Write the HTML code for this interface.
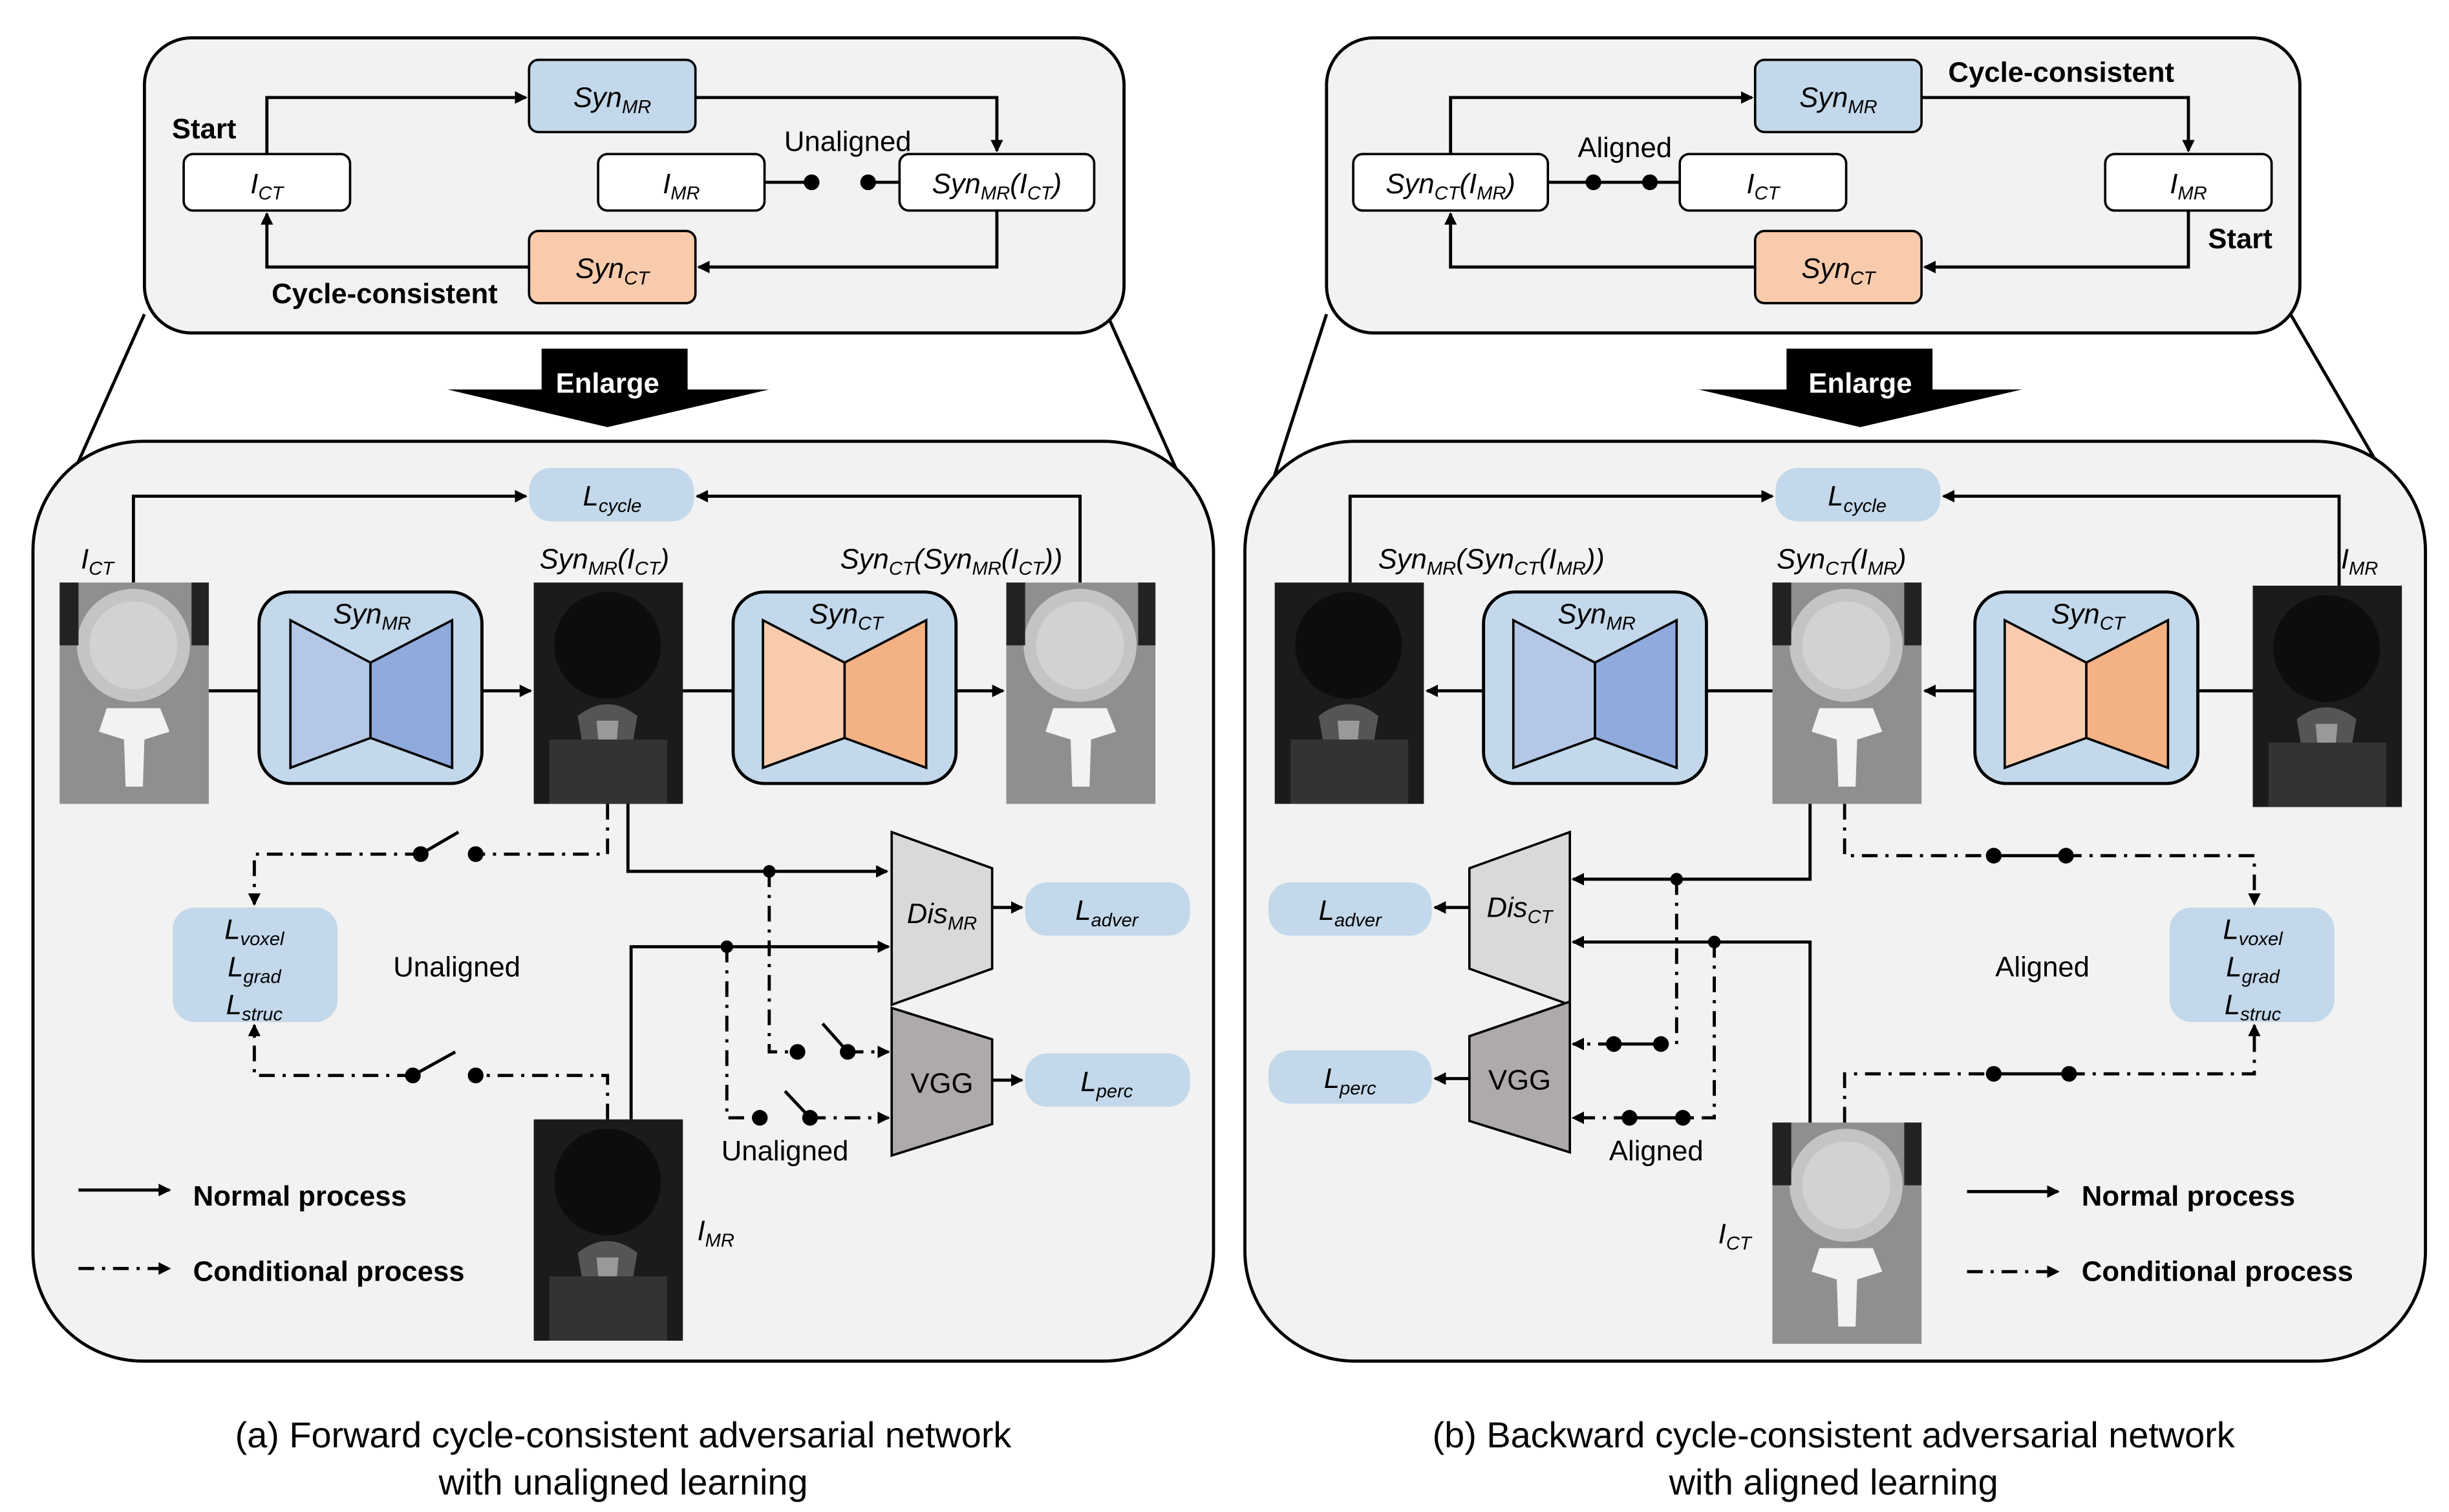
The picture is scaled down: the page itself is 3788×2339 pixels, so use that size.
<!DOCTYPE html>
<html><head><meta charset="utf-8"><style>
html,body{margin:0;padding:0;background:#fff;}
svg{display:block;}
text{font-family:"Liberation Sans",sans-serif;fill:#000;}
.i{font-style:italic;font-size:18px;}
.b{font-weight:bold;font-size:18px;}
.n{font-size:18px;}
.cap{font-size:23px;}
</style></head><body>
<svg width="3788" height="2339" viewBox="0 0 1560 963" xmlns="http://www.w3.org/2000/svg">
<defs>
<marker id="ar" markerWidth="8" markerHeight="8" refX="7" refY="4" orient="auto" markerUnits="userSpaceOnUse"><path d="M0,0 L8,4 L0,8 z" fill="#000"/></marker>
<g id="ct">
<rect x="0" y="0" width="95" height="141" fill="#8f8f8f"/>
<ellipse cx="47" cy="40" rx="36" ry="36" fill="#c4c4c4"/>
<ellipse cx="47" cy="40" rx="28" ry="28" fill="#d2d2d2"/>
<path d="M30,80 L64,80 L70,95 L54,100 L53,130 L42,130 L41,100 L25,95 z" fill="#f2f2f2"/>
<rect x="0" y="0" width="12" height="40" fill="#222"/>
<rect x="84" y="0" width="11" height="40" fill="#222"/>
</g>
<g id="mr">
<rect x="0" y="0" width="95" height="141" fill="#1b1b1b"/>
<ellipse cx="47" cy="40" rx="34" ry="34" fill="#0d0d0d"/>
<path d="M28,85 Q47,70 66,85 L60,120 L34,120 z" fill="#555"/>
<path d="M40,88 L54,88 L52,110 L42,110 z" fill="#999"/>
<rect x="10" y="100" width="75" height="41" fill="#333"/>
</g>
</defs>

<!-- ================= PANEL A ================= -->
<line x1="92" y1="200" x2="24" y2="352" stroke="#000" stroke-width="2"/>
<line x1="706" y1="202" x2="770" y2="345" stroke="#000" stroke-width="2"/>
<rect x="92" y="24" width="624" height="188" rx="30" fill="#f2f2f2" stroke="#000" stroke-width="2"/>
<g stroke="#000" stroke-width="2" fill="none">
<polyline points="170,98 170,62 335,62" marker-end="url(#ar)"/>
<polyline points="443,62 635,62 635,96" marker-end="url(#ar)"/>
<polyline points="635,134 635,170 445,170" marker-end="url(#ar)"/>
<polyline points="337,170 170,170 170,136" marker-end="url(#ar)"/>
<line x1="487" y1="116" x2="517" y2="116"/>
<line x1="553" y1="116" x2="573" y2="116"/>
</g>
<circle cx="517" cy="116" r="5"/><circle cx="553" cy="116" r="5"/>
<rect x="337" y="38" width="106" height="46" rx="6" fill="#c3d8ea" stroke="#000" stroke-width="1.5"/>
<text x="390" y="68" class="i" text-anchor="middle">Syn<tspan font-size="12" dy="4">MR</tspan></text>
<rect x="337" y="147" width="106" height="46" rx="6" fill="#f8cbad" stroke="#000" stroke-width="1.5"/>
<text x="390" y="177" class="i" text-anchor="middle">Syn<tspan font-size="12" dy="4">CT</tspan></text>
<rect x="117" y="98" width="106" height="36" rx="6" fill="#fff" stroke="#000" stroke-width="1.5"/>
<text x="170" y="123" class="i" text-anchor="middle">I<tspan font-size="12" dy="4">CT</tspan></text>
<rect x="381" y="98" width="106" height="36" rx="6" fill="#fff" stroke="#000" stroke-width="1.5"/>
<text x="434" y="123" class="i" text-anchor="middle">I<tspan font-size="12" dy="4">MR</tspan></text>
<rect x="573" y="98" width="124" height="36" rx="6" fill="#fff" stroke="#000" stroke-width="1.5"/>
<text x="635" y="123" class="i" text-anchor="middle">Syn<tspan font-size="12" dy="4">MR</tspan><tspan dy="-4">(I</tspan><tspan font-size="12" dy="4">CT</tspan><tspan dy="-4">)</tspan></text>
<text x="540" y="96" class="n" text-anchor="middle">Unaligned</text>
<text x="130" y="88" class="b" text-anchor="middle">Start</text>
<text x="245" y="193" class="b" text-anchor="middle">Cycle-consistent</text>
<!-- enlarge -->
<rect x="345" y="222" width="93" height="27" fill="#000"/>
<polygon points="285,248 490,248 387,272" fill="#000"/>
<text x="387" y="250" class="b" font-size="20" text-anchor="middle" style="fill:#fff">Enlarge</text>

<rect x="21" y="281" width="752" height="586" rx="70" fill="#f2f2f2" stroke="#000" stroke-width="2"/>
<rect x="337" y="298" width="105" height="34" rx="14" fill="#c3d8ea"/>
<text x="390" y="322" class="i" text-anchor="middle">L<tspan font-size="12" dy="4">cycle</tspan></text>
<g stroke="#000" stroke-width="2" fill="none">
<polyline points="85,371 85,316 335,316" marker-end="url(#ar)"/>
<polyline points="688,371 688,316 444,316" marker-end="url(#ar)"/>
<line x1="133" y1="440" x2="183" y2="440" marker-end="url(#ar)"/>
<line x1="288" y1="440" x2="338" y2="440" marker-end="url(#ar)"/>
<line x1="434" y1="440" x2="483" y2="440" marker-end="url(#ar)"/>
<line x1="589" y1="440" x2="639" y2="440" marker-end="url(#ar)"/>
<polyline points="400,512 400,555 565,555" marker-end="url(#ar)"/>
<polyline points="402,713 402,603 566,603" marker-end="url(#ar)"/>
<line x1="632" y1="578" x2="651" y2="578" marker-end="url(#ar)"/>
<line x1="632" y1="688" x2="651" y2="688" marker-end="url(#ar)"/>
<line x1="50" y1="758" x2="108" y2="758" marker-end="url(#ar)"/>
</g>
<g stroke="#000" stroke-width="2" fill="none" stroke-dasharray="10,5,2,5">
<polyline points="490,555 490,670 508,670"/>
<line x1="540" y1="670" x2="566" y2="670" marker-end="url(#ar)"/>
<polyline points="463,603 463,712 484,712"/>
<line x1="516" y1="712" x2="566" y2="712" marker-end="url(#ar)"/>
<polyline points="387,512 387,544 303,544"/>
<polyline points="268,544 162,544 162,576" marker-end="url(#ar)"/>
<polyline points="387,713 387,685 303,685"/>
<polyline points="263,685 162,685 162,653" marker-end="url(#ar)"/>
<line x1="50" y1="808" x2="108" y2="808" marker-end="url(#ar)"/>
</g>
<g stroke="#000" stroke-width="2">
<line x1="524" y1="652" x2="540" y2="670"/>
<line x1="500" y1="695" x2="516" y2="712"/>
<line x1="268" y1="544" x2="292" y2="530"/>
<line x1="263" y1="685" x2="290" y2="670"/>
</g>
<circle cx="490" cy="555" r="4"/><circle cx="463" cy="603" r="4"/>
<circle cx="508" cy="670" r="5"/><circle cx="540" cy="670" r="5"/>
<circle cx="484" cy="712" r="5"/><circle cx="516" cy="712" r="5"/>
<circle cx="268" cy="544" r="5"/><circle cx="303" cy="544" r="5"/>
<circle cx="263" cy="685" r="5"/><circle cx="303" cy="685" r="5"/>
<use href="#ct" x="38" y="371"/>
<use href="#mr" x="340" y="371"/>
<use href="#ct" x="641" y="371"/>
<use href="#mr" x="340" y="713"/>
<rect x="165" y="377" width="142" height="122" rx="20" fill="#c3d8ea" stroke="#000" stroke-width="2"/>
<polygon points="185,395 236,422 236,470 185,489" fill="#b4c7e7" stroke="#000" stroke-width="1.5"/>
<polygon points="236,422 288,395 288,489 236,470" fill="#8faadc" stroke="#000" stroke-width="1.5"/>
<text x="237" y="397" class="i" text-anchor="middle">Syn<tspan font-size="12" dy="4">MR</tspan></text>
<rect x="467" y="377" width="142" height="122" rx="20" fill="#c3d8ea" stroke="#000" stroke-width="2"/>
<polygon points="486,395 538,422 538,470 486,489" fill="#f8cbad" stroke="#000" stroke-width="1.5"/>
<polygon points="538,422 590,395 590,489 538,470" fill="#f4b183" stroke="#000" stroke-width="1.5"/>
<text x="539" y="397" class="i" text-anchor="middle">Syn<tspan font-size="12" dy="4">CT</tspan></text>
<text x="62" y="362" class="i" text-anchor="middle">I<tspan font-size="12" dy="4">CT</tspan></text>
<text x="385" y="362" class="i" text-anchor="middle">Syn<tspan font-size="12" dy="4">MR</tspan><tspan dy="-4">(I</tspan><tspan font-size="12" dy="4">CT</tspan><tspan dy="-4">)</tspan></text>
<text x="606" y="362" class="i" text-anchor="middle">Syn<tspan font-size="12" dy="4">CT</tspan><tspan dy="-4">(Syn</tspan><tspan font-size="12" dy="4">MR</tspan><tspan dy="-4">(I</tspan><tspan font-size="12" dy="4">CT</tspan><tspan dy="-4">))</tspan></text>
<polygon points="568,530 632,553 632,617 568,640" fill="#d9d9d9" stroke="#000" stroke-width="1.5"/>
<text x="600" y="588" class="i" text-anchor="middle">Dis<tspan font-size="12" dy="4">MR</tspan></text>
<polygon points="568,642 632,662 632,716 568,736" fill="#aeaaaa" stroke="#000" stroke-width="1.5"/>
<text x="600" y="696" class="n" text-anchor="middle">VGG</text>
<rect x="653" y="562" width="105" height="34" rx="14" fill="#c3d8ea"/>
<text x="705" y="586" class="i" text-anchor="middle">L<tspan font-size="12" dy="4">adver</tspan></text>
<rect x="653" y="671" width="105" height="34" rx="14" fill="#c3d8ea"/>
<text x="705" y="695" class="i" text-anchor="middle">L<tspan font-size="12" dy="4">perc</tspan></text>
<rect x="110" y="578" width="105" height="73" rx="14" fill="#c3d8ea"/>
<text x="162" y="598" class="i" text-anchor="middle">L<tspan font-size="12" dy="4">voxel</tspan></text>
<text x="162" y="622" class="i" text-anchor="middle">L<tspan font-size="12" dy="4">grad</tspan></text>
<text x="162" y="646" class="i" text-anchor="middle">L<tspan font-size="12" dy="4">struc</tspan></text>
<text x="291" y="622" class="n" text-anchor="middle">Unaligned</text>
<text x="500" y="739" class="n" text-anchor="middle">Unaligned</text>
<text x="456" y="790" class="i" text-anchor="middle">I<tspan font-size="12" dy="4">MR</tspan></text>
<text x="123" y="768" class="b">Normal process</text>
<text x="123" y="816" class="b">Conditional process</text>

<!-- ================= PANEL B ================= -->
<line x1="845" y1="200" x2="796" y2="352" stroke="#000" stroke-width="2"/>
<line x1="1459" y1="200" x2="1530" y2="322" stroke="#000" stroke-width="2"/>
<rect x="845" y="24" width="620" height="188" rx="30" fill="#f2f2f2" stroke="#000" stroke-width="2"/>
<g stroke="#000" stroke-width="2" fill="none">
<polyline points="924,98 924,62 1116,62" marker-end="url(#ar)"/>
<polyline points="1224,62 1394,62 1394,96" marker-end="url(#ar)"/>
<polyline points="1394,134 1394,170 1226,170" marker-end="url(#ar)"/>
<polyline points="1118,170 924,170 924,136" marker-end="url(#ar)"/>
<line x1="986" y1="116" x2="1070" y2="116"/>
</g>
<circle cx="1015" cy="116" r="5"/><circle cx="1051" cy="116" r="5"/>
<rect x="1118" y="38" width="106" height="46" rx="6" fill="#c3d8ea" stroke="#000" stroke-width="1.5"/>
<text x="1171" y="68" class="i" text-anchor="middle">Syn<tspan font-size="12" dy="4">MR</tspan></text>
<rect x="1118" y="147" width="106" height="46" rx="6" fill="#f8cbad" stroke="#000" stroke-width="1.5"/>
<text x="1171" y="177" class="i" text-anchor="middle">Syn<tspan font-size="12" dy="4">CT</tspan></text>
<rect x="862" y="98" width="124" height="36" rx="6" fill="#fff" stroke="#000" stroke-width="1.5"/>
<text x="924" y="123" class="i" text-anchor="middle">Syn<tspan font-size="12" dy="4">CT</tspan><tspan dy="-4">(I</tspan><tspan font-size="12" dy="4">MR</tspan><tspan dy="-4">)</tspan></text>
<rect x="1070" y="98" width="106" height="36" rx="6" fill="#fff" stroke="#000" stroke-width="1.5"/>
<text x="1123" y="123" class="i" text-anchor="middle">I<tspan font-size="12" dy="4">CT</tspan></text>
<rect x="1341" y="98" width="106" height="36" rx="6" fill="#fff" stroke="#000" stroke-width="1.5"/>
<text x="1394" y="123" class="i" text-anchor="middle">I<tspan font-size="12" dy="4">MR</tspan></text>
<text x="1035" y="100" class="n" text-anchor="middle">Aligned</text>
<text x="1313" y="52" class="b" text-anchor="middle">Cycle-consistent</text>
<text x="1427" y="158" class="b" text-anchor="middle">Start</text>
<rect x="1138" y="222" width="93" height="27" fill="#000"/>
<polygon points="1082,248 1288,248 1185,272" fill="#000"/>
<text x="1185" y="250" class="b" font-size="20" text-anchor="middle" style="fill:#fff">Enlarge</text>

<rect x="793" y="281" width="752" height="586" rx="70" fill="#f2f2f2" stroke="#000" stroke-width="2"/>
<rect x="1131" y="298" width="105" height="34" rx="14" fill="#c3d8ea"/>
<text x="1183" y="322" class="i" text-anchor="middle">L<tspan font-size="12" dy="4">cycle</tspan></text>
<g stroke="#000" stroke-width="2" fill="none">
<polyline points="860,371 860,316 1129,316" marker-end="url(#ar)"/>
<polyline points="1490,373 1490,316 1238,316" marker-end="url(#ar)"/>
<line x1="1435" y1="440" x2="1383" y2="440" marker-end="url(#ar)"/>
<line x1="1258" y1="440" x2="1226" y2="440" marker-end="url(#ar)"/>
<line x1="1129" y1="440" x2="1070" y2="440" marker-end="url(#ar)"/>
<line x1="945" y1="440" x2="909" y2="440" marker-end="url(#ar)"/>
<polyline points="1153,512 1153,560 1002,560" marker-end="url(#ar)"/>
<polyline points="1153,715 1153,600 1002,600" marker-end="url(#ar)"/>
<line x1="936" y1="578" x2="914" y2="578" marker-end="url(#ar)"/>
<line x1="936" y1="687" x2="914" y2="687" marker-end="url(#ar)"/>
<line x1="1253" y1="759" x2="1311" y2="759" marker-end="url(#ar)"/>
<line x1="1028" y1="665" x2="1058" y2="665"/>
<line x1="1038" y1="712" x2="1072" y2="712"/>
<line x1="1270" y1="545" x2="1316" y2="545"/>
<line x1="1270" y1="684" x2="1318" y2="684"/>
</g>
<g stroke="#000" stroke-width="2" fill="none" stroke-dasharray="10,5,2,5">
<polyline points="1068,560 1068,665 1058,665"/>
<line x1="1028" y1="665" x2="1002" y2="665" marker-end="url(#ar)"/>
<polyline points="1092,600 1092,712 1072,712"/>
<line x1="1038" y1="712" x2="1002" y2="712" marker-end="url(#ar)"/>
<polyline points="1175,512 1175,545 1270,545"/>
<polyline points="1316,545 1436,545 1436,576" marker-end="url(#ar)"/>
<polyline points="1175,715 1175,684 1270,684"/>
<polyline points="1318,684 1436,684 1436,653" marker-end="url(#ar)"/>
<line x1="1253" y1="810" x2="1311" y2="810" marker-end="url(#ar)"/>
</g>
<circle cx="1068" cy="560" r="4"/><circle cx="1092" cy="600" r="4"/>
<circle cx="1028" cy="665" r="5"/><circle cx="1058" cy="665" r="5"/>
<circle cx="1038" cy="712" r="5"/><circle cx="1072" cy="712" r="5"/>
<circle cx="1270" cy="545" r="5"/><circle cx="1316" cy="545" r="5"/>
<circle cx="1270" cy="684" r="5"/><circle cx="1318" cy="684" r="5"/>
<use href="#mr" x="812" y="371"/>
<use href="#ct" x="1129" y="371"/>
<use href="#mr" x="1435" y="373"/>
<use href="#ct" x="1129" y="715"/>
<rect x="945" y="377" width="142" height="122" rx="20" fill="#c3d8ea" stroke="#000" stroke-width="2"/>
<polygon points="964,395 1016,422 1016,470 964,489" fill="#b4c7e7" stroke="#000" stroke-width="1.5"/>
<polygon points="1016,422 1068,395 1068,489 1016,470" fill="#8faadc" stroke="#000" stroke-width="1.5"/>
<text x="1017" y="397" class="i" text-anchor="middle">Syn<tspan font-size="12" dy="4">MR</tspan></text>
<rect x="1258" y="377" width="142" height="122" rx="20" fill="#c3d8ea" stroke="#000" stroke-width="2"/>
<polygon points="1277,395 1329,422 1329,470 1277,489" fill="#f8cbad" stroke="#000" stroke-width="1.5"/>
<polygon points="1329,422 1381,395 1381,489 1329,470" fill="#f4b183" stroke="#000" stroke-width="1.5"/>
<text x="1330" y="397" class="i" text-anchor="middle">Syn<tspan font-size="12" dy="4">CT</tspan></text>
<text x="950" y="362" class="i" text-anchor="middle">Syn<tspan font-size="12" dy="4">MR</tspan><tspan dy="-4">(Syn</tspan><tspan font-size="12" dy="4">CT</tspan><tspan dy="-4">(I</tspan><tspan font-size="12" dy="4">MR</tspan><tspan dy="-4">))</tspan></text>
<text x="1173" y="362" class="i" text-anchor="middle">Syn<tspan font-size="12" dy="4">CT</tspan><tspan dy="-4">(I</tspan><tspan font-size="12" dy="4">MR</tspan><tspan dy="-4">)</tspan></text>
<text x="1503" y="362" class="i" text-anchor="middle">I<tspan font-size="12" dy="4">MR</tspan></text>
<polygon points="1000,530 936,553 936,617 1000,640" fill="#d9d9d9" stroke="#000" stroke-width="1.5"/>
<text x="968" y="584" class="i" text-anchor="middle">Dis<tspan font-size="12" dy="4">CT</tspan></text>
<polygon points="1000,638 936,660 936,714 1000,734" fill="#aeaaaa" stroke="#000" stroke-width="1.5"/>
<text x="968" y="694" class="n" text-anchor="middle">VGG</text>
<rect x="808" y="562" width="104" height="34" rx="14" fill="#c3d8ea"/>
<text x="860" y="586" class="i" text-anchor="middle">L<tspan font-size="12" dy="4">adver</tspan></text>
<rect x="808" y="669" width="104" height="34" rx="14" fill="#c3d8ea"/>
<text x="860" y="693" class="i" text-anchor="middle">L<tspan font-size="12" dy="4">perc</tspan></text>
<rect x="1382" y="578" width="105" height="73" rx="14" fill="#c3d8ea"/>
<text x="1435" y="598" class="i" text-anchor="middle">L<tspan font-size="12" dy="4">voxel</tspan></text>
<text x="1435" y="622" class="i" text-anchor="middle">L<tspan font-size="12" dy="4">grad</tspan></text>
<text x="1435" y="646" class="i" text-anchor="middle">L<tspan font-size="12" dy="4">struc</tspan></text>
<text x="1301" y="622" class="n" text-anchor="middle">Aligned</text>
<text x="1055" y="739" class="n" text-anchor="middle">Aligned</text>
<text x="1105" y="792" class="i" text-anchor="middle">I<tspan font-size="12" dy="4">CT</tspan></text>
<text x="1326" y="768" class="b">Normal process</text>
<text x="1326" y="816" class="b">Conditional process</text>

<!-- captions -->
<text x="397" y="922" class="cap" text-anchor="middle">(a)  Forward cycle-consistent adversarial network</text>
<text x="397" y="952" class="cap" text-anchor="middle">with unaligned learning</text>
<text x="1168" y="922" class="cap" text-anchor="middle">(b) Backward cycle-consistent adversarial network</text>
<text x="1168" y="952" class="cap" text-anchor="middle">with aligned learning</text>
</svg>
</body></html>
